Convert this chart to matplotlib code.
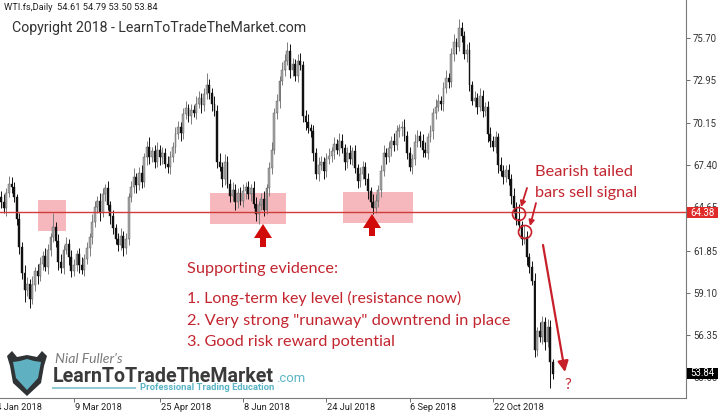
import numpy as np
import pandas as pd
import matplotlib
matplotlib.use("Agg")
import matplotlib.pyplot as plt
import matplotlib.transforms as mtransforms
from matplotlib import font_manager
from matplotlib.patches import Rectangle, Polygon, Circle

# ---------------- data ----------------
header_text = "WTI.fs,Daily  54.61 54.79 53.50 53.84"
start_date = "2018-01-30"
first_open = 65.3
closes = [
    65.0, 64.6, 65.6, 66.2, 66.0, 65.3, 63.9, 62.1, 60.4, 59.3,
    59.7, 58.7, 59.6, 60.5, 60.2, 61.0, 61.5, 60.8, 61.9, 62.7,
    63.4, 62.5, 61.1, 60.7, 61.9, 62.3, 61.4, 60.5, 60.9, 61.6,
    60.9, 60.6, 61.3, 62.0, 62.7, 63.7, 64.7, 65.1, 64.3, 65.5,
    65.9, 64.8, 64.1, 63.3, 62.6, 62.2, 62.8, 62.0, 62.6, 65.3,
    66.0, 66.6, 66.1, 66.9, 66.3, 67.9, 68.6, 67.9, 68.3, 67.6,
    68.4, 67.9, 68.2, 67.5, 67.3, 67.9, 68.6, 69.4, 69.9, 69.5,
    70.7, 71.1, 70.6, 71.0, 70.8, 71.4, 71.8, 71.3, 72.0, 72.6,
    72.1, 71.4, 70.9, 67.6, 67.3, 66.5, 67.6, 66.2, 65.4, 65.8,
    65.0, 65.6, 65.1, 65.7, 66.0, 65.5, 65.9, 64.9, 64.2, 64.8,
    65.2, 64.5, 65.9, 67.2, 68.4, 70.8, 71.6, 72.9, 73.6, 74.2,
    74.8, 73.6, 74.0, 73.2, 74.2, 73.9, 70.6, 70.2, 69.8, 69.6,
    68.2, 66.8, 67.4, 67.6, 67.0, 67.8, 68.0, 68.3, 68.8, 68.4,
    69.0, 68.5, 67.6, 68.2, 67.8, 68.3, 67.2, 66.4, 66.8, 67.3,
    66.5, 65.7, 65.0, 64.6, 65.1, 65.8, 67.0, 68.2, 67.9, 68.5,
    69.0, 68.7, 69.6, 69.8, 69.9, 69.3, 68.2, 67.3, 67.8, 68.9,
    69.3, 69.0, 68.4, 68.2, 69.2, 69.6, 70.8, 71.2, 71.6, 71.4,
    72.4, 73.1, 72.8, 74.6, 75.4, 75.1, 76.3, 75.8, 74.6, 74.9,
    72.6, 71.6, 71.8, 71.2, 71.9, 70.9, 71.2, 69.4, 69.0, 68.6,
    69.2, 67.4, 67.0, 66.6, 67.1, 66.5, 65.4, 64.6, 63.9, 63.5,
    62.6, 62.7, 61.4, 60.8, 59.9, 55.4, 56.6, 56.2, 57.2, 55.9,
    56.9, 54.61, 53.84,
]
upper_wick = [
    0.4, 0.5, 0.3, 0.5, 0.4, 0.3, 0.2, 0.4, 0.3, 0.5,
    0.4, 0.3, 0.6, 0.3, 0.5, 0.4, 0.3, 0.5, 0.4, 0.3,
    0.9, 0.3, 0.4, 0.5, 0.3, 0.4, 0.3, 0.5, 0.4, 0.3,
    0.4, 0.5, 0.3, 0.4, 0.3, 0.5, 0.4, 0.3, 0.5, 0.4,
    0.3, 0.5, 0.3, 0.4, 0.3, 0.4, 0.5, 0.3, 0.4, 0.3,
    0.4, 0.6, 0.3, 0.4, 0.5, 0.3, 0.4, 0.6, 0.3, 0.4,
    0.5, 0.3, 0.4, 0.3, 0.5, 0.4, 0.3, 0.5, 0.4, 0.3,
    0.4, 0.5, 0.3, 0.4, 0.3, 0.5, 0.4, 0.3, 0.4, 0.8,
    0.4, 0.3, 0.5, 0.4, 0.6, 0.3, 0.5, 0.4, 0.3, 0.5,
    0.4, 0.3, 0.4, 0.5, 0.3, 0.4, 0.3, 0.5, 0.4, 0.3,
    0.4, 0.5, 0.3, 0.4, 0.5, 0.3, 0.4, 0.3, 0.5, 0.4,
    0.6, 0.5, 0.4, 0.3, 0.4, 0.5, 0.3, 0.4, 0.5, 0.3,
    0.4, 0.3, 0.5, 0.4, 0.3, 0.4, 0.5, 0.3, 0.4, 0.3,
    0.5, 0.4, 0.3, 0.4, 0.5, 0.3, 0.4, 0.3, 0.5, 0.4,
    0.3, 0.4, 0.3, 0.5, 0.4, 0.3, 0.4, 0.5, 0.3, 0.4,
    0.3, 0.5, 0.4, 0.3, 0.4, 0.5, 0.3, 0.4, 0.3, 0.5,
    0.4, 0.3, 0.4, 0.5, 0.3, 0.4, 0.3, 0.5, 0.4, 0.3,
    0.4, 0.5, 0.3, 0.4, 0.5, 0.3, 0.6, 0.4, 0.3, 0.4,
    0.5, 0.3, 0.4, 0.3, 0.5, 0.4, 0.3, 0.4, 0.5, 0.3,
    0.4, 0.3, 0.5, 0.4, 0.3, 0.4, 0.3, 0.5, 0.4, 1.0,
    0.3, 0.8, 0.4, 0.3, 0.4, 0.5, 0.3, 0.6, 0.4, 0.3,
    0.5, 0.4, 0.18,
]
lower_wick = [
    0.4, 0.3, 0.5, 0.3, 0.4, 0.3, 0.4, 0.5, 0.4, 0.8,
    0.4, 0.6, 0.3, 0.4, 0.5, 0.3, 0.4, 0.3, 0.5, 0.4,
    0.3, 0.4, 0.5, 0.3, 0.4, 0.3, 0.5, 0.4, 0.3, 0.4,
    0.5, 0.3, 0.4, 0.3, 0.5, 0.4, 0.3, 0.4, 0.5, 0.3,
    0.4, 0.3, 0.5, 0.4, 0.3, 0.4, 0.3, 0.5, 0.4, 0.4,
    0.3, 0.4, 0.5, 0.3, 0.4, 0.3, 0.5, 0.4, 0.3, 0.4,
    0.3, 0.5, 0.4, 0.3, 0.4, 0.5, 0.3, 0.4, 0.3, 0.5,
    0.4, 0.3, 0.4, 0.5, 0.3, 0.4, 0.3, 0.5, 0.4, 0.3,
    0.4, 0.5, 0.3, 0.4, 0.3, 0.5, 0.4, 0.3, 0.4, 0.3,
    0.5, 0.4, 0.3, 0.4, 0.5, 0.3, 0.4, 0.3, 0.4, 0.6,
    0.3, 0.4, 0.3, 0.5, 0.4, 0.3, 0.4, 0.5, 0.3, 0.4,
    0.3, 0.5, 0.4, 0.3, 0.4, 0.3, 0.4, 0.5, 0.3, 0.4,
    0.5, 0.3, 0.4, 0.3, 0.5, 0.4, 0.3, 0.4, 0.5, 0.3,
    0.4, 0.3, 0.5, 0.4, 0.3, 0.4, 0.3, 0.5, 0.4, 0.3,
    0.4, 0.5, 0.3, 0.4, 0.3, 0.4, 0.5, 0.3, 0.4, 0.3,
    0.5, 0.4, 0.3, 0.4, 0.5, 0.3, 0.4, 0.3, 0.5, 0.4,
    0.3, 0.4, 0.5, 0.3, 0.4, 0.3, 0.5, 0.4, 0.3, 0.4,
    0.5, 0.3, 0.4, 0.3, 0.4, 0.5, 0.3, 0.4, 0.3, 0.5,
    0.4, 0.3, 0.4, 0.5, 0.3, 0.4, 0.3, 0.5, 0.4, 0.3,
    0.4, 0.5, 0.3, 0.4, 0.3, 0.4, 0.5, 0.3, 0.4, 0.3,
    0.4, 0.3, 0.5, 0.4, 0.3, 0.5, 0.4, 0.3, 0.4, 0.5,
    0.3, 1.7, 0.34,
]
price_ticks = [75.70, 72.95, 70.15, 67.40, 64.65, 61.85, 59.10, 56.35, 53.60]
price_tick_labels = ["75.70", "72.95", "70.15", "67.40", "64.65", "61.85", "59.10", "56.35", "53.60"]
date_ticks = ["2018-01-24", "2018-03-09", "2018-04-25", "2018-06-08",
              "2018-07-24", "2018-09-06", "2018-10-22"]
date_tick_labels = ["24 Jan 2018", "9 Mar 2018", "25 Apr 2018", "8 Jun 2018",
                    "24 Jul 2018", "6 Sep 2018", "22 Oct 2018"]
key_level = 64.38
last_price = 53.84

copyright_text = "Copyright 2018 - LearnToTradeTheMarket.com"
evidence_title = "Supporting evidence:"
evidence_lines = ['1. Long-term key level (resistance now)',
                  '2. Very strong "runaway" downtrend in place',
                  '3. Good risk reward potential']
signal_lines = ["Bearish tailed", "bars sell signal"]

assert len(closes) == len(upper_wick) == len(lower_wick)

# ---------------- fonts ----------------
avail = {f.name for f in font_manager.fontManager.ttflist}
def pick(*names):
    for n in names:
        if n in avail:
            return n
    return "DejaVu Sans"
axis_font = pick("Roboto", "DejaVu Sans")
note_font = pick("Lato", "Open Sans", "DejaVu Sans")
logo_font = pick("Liberation Sans Narrow", "Roboto", "DejaVu Sans")

# ---------------- derived OHLC ----------------
n = len(closes)
c = np.array(closes)
o = np.array([first_open] + closes[:-1])
hi = np.maximum(o, c) + np.array(upper_wick)
lo = np.minimum(o, c) - np.array(lower_wick)
x = np.arange(n)
start = np.datetime64(start_date)
tick_pos = [int(np.busday_count(start, np.datetime64(d))) for d in date_ticks]

W, H = 720, 416
fig = plt.figure(figsize=(W / 100, H / 100), dpi=100)
ax = fig.add_axes([0, 18 / H, 686 / W, 398 / H])
ov = fig.add_axes([0, 0, 1, 1], zorder=10)
ov.set_xlim(0, W)
ov.set_ylim(H, 0)
ov.axis("off")
ov.patch.set_alpha(0)

# axis scales: bar spacing ~2.6 px, price 15.38 px per unit
ax.set_xlim(-0.42, 263.2)
ax.set_ylim(52.26, 78.14)

bull = c >= o
# pink zones (pixel placement, under candles)
zones_px = [(38, 200, 28, 31), (210, 193, 76, 31), (343, 192, 70, 31)]
for zx, zy, zw, zh in zones_px:
    ax.add_patch(Rectangle((zx, zy), zw, zh, transform=ov.transData,
                           facecolor="#f6b8bc", edgecolor="none", zorder=1))

wick_cols = np.where(bull, "#7d7d7d", "#111111")
ax.vlines(x, lo, hi, colors=wick_cols, linewidth=0.7, zorder=2)
body_h = np.maximum(np.abs(c - o), 0.06)
ax.bar(x[bull], body_h[bull], bottom=np.minimum(o, c)[bull], width=0.72,
       color="#a8a8a8", edgecolor="#555555", linewidth=0.3, zorder=3)
ax.bar(x[~bull], body_h[~bull], bottom=np.minimum(o, c)[~bull], width=0.72,
       color="#111111", edgecolor="#111111", linewidth=0.3, zorder=3)

ax.axhline(key_level, color="#d23b3b", linewidth=1.0, zorder=4)

# spines / ticks
for s in ("left", "top"):
    ax.spines[s].set_visible(False)
for s in ("right", "bottom"):
    ax.spines[s].set_color("#7a7a7a")
    ax.spines[s].set_linewidth(0.8)
ax.yaxis.tick_right()
ax.set_yticks(price_ticks)
ax.set_yticklabels(price_tick_labels)
ax.tick_params(axis="y", length=3, width=0.6, color="#555555", pad=2,
               labelsize=6.9, labelcolor="#333333")
for t in ax.get_yticklabels():
    t.set_fontfamily(axis_font)
ax.set_xticks([p for p in tick_pos if p >= -0.42])
ax.set_xticklabels([])
ax.tick_params(axis="x", length=3, width=0.6, color="#555555")
xblend = mtransforms.blended_transform_factory(ax.transData, ov.transData)
for p, lab in zip(tick_pos, date_tick_labels):
    ax.text(p + 0.3, 408, lab, transform=xblend, ha="left", va="center",
            fontsize=6.7, color="#222222", family=axis_font, clip_on=False)

renderer = fig.canvas.get_renderer()
def fit_text(x0, y0, s, width, **kw):
    t = ov.text(x0, y0, s, **kw)
    bb = t.get_window_extent(renderer=renderer)
    t.set_fontsize(t.get_fontsize() * width / bb.width)
    return t

# header texts
fit_text(4, 7, header_text, 154, ha="left", va="center", fontsize=7,
         color="#222222", family=axis_font)
fit_text(12, 28, copyright_text, 294, ha="left", va="center", fontsize=10,
         color="#333333", family=axis_font)

red_txt = "#c3252f"
fit_text(187, 273, evidence_title, 150, ha="left", va="baseline", fontsize=12,
         color=red_txt, family=note_font)
for yb, line, wdt in zip([303, 325, 346], evidence_lines, [275, 320, 207]):
    fit_text(187, yb, line, wdt, ha="left", va="baseline", fontsize=12,
             color=red_txt, family=note_font)
fit_text(535, 176, signal_lines[0], 97, ha="left", va="baseline", fontsize=12,
         color=red_txt, family=note_font)
fit_text(535, 197, signal_lines[1], 102, ha="left", va="baseline", fontsize=12,
         color=red_txt, family=note_font)
ov.text(568, 389, "?", ha="center", va="baseline", fontsize=11,
        color=red_txt, family=note_font)

# fat red up arrows
def up_arrow(xc, ytip, yhead, ybase, hw=18, sw=6):
    pts = [(xc, ytip), (xc + hw / 2, yhead), (xc + sw / 2, yhead),
           (xc + sw / 2, ybase), (xc - sw / 2, ybase), (xc - sw / 2, yhead),
           (xc - hw / 2, yhead)]
    ov.add_patch(Polygon(pts, closed=True, facecolor="#d10a0a", edgecolor="none"))
up_arrow(263, 224, 238, 247)
up_arrow(372, 214, 228, 236)

# small arrows and circles
for (x1, y1), (x2, y2) in [((527, 188), (521, 207)), ((536, 203), (530, 226))]:
    ov.annotate("", xy=(x2, y2), xytext=(x1, y1),
                arrowprops=dict(arrowstyle="-|>", color="#c8202a", lw=1.3,
                                mutation_scale=8, shrinkA=0, shrinkB=0))
for cx, cy in [(519, 214), (525, 232)]:
    ov.add_patch(Circle((cx, cy), 6.5, facecolor="none", edgecolor="#c8202a", lw=1.2))

# big down arrow
ov.annotate("", xy=(565, 372), xytext=(543, 245),
            arrowprops=dict(arrowstyle="-|>", color="#c8202a", lw=1.6,
                            mutation_scale=16, shrinkA=0, shrinkB=0))

# price boxes
def price_box(yc, txt, fc):
    ov.add_patch(Rectangle((687, yc - 5.5), 31, 11, facecolor=fc, edgecolor="none"))
    ov.text(702.5, yc, txt, ha="center", va="center", fontsize=6.9,
            color="white", family=axis_font)
price_box(212.5, f"{key_level:.2f}", "#e02a2a")
price_box(373.5, f"{last_price:.2f}", "#000000")

# logo
outer = [(7, 356), (12, 351), (17, 357), (27, 355), (37, 357), (42, 351), (47, 356),
         (44, 366), (41, 383), (27, 396), (13, 383), (10, 366)]
inner = [(13, 362), (20, 361), (27, 359), (34, 361), (41, 362), (38, 378),
         (27, 390), (16, 378)]
ov.add_patch(Polygon(outer, closed=True, facecolor="#2f3335", edgecolor="none"))
ov.add_patch(Polygon(inner, closed=True, facecolor="#5fb0c0", edgecolor="none"))
fit_text(55, 363, "Nial Fuller's", 68, ha="left", va="baseline", fontsize=9,
         color="#7a7a7a", family=note_font, style="italic")
fit_text(53, 382, "LearnToTradeTheMarket", 222, ha="left", va="baseline", fontsize=16,
         color="#3a3a3a", family=logo_font, weight="bold")
fit_text(276, 382, ".com", 29, ha="left", va="baseline", fontsize=10,
         color="#5ab4c5", family=logo_font)
ov.plot([53, 135], [388, 388], color="#8fc8d2", lw=1.4)
fit_text(140, 388, "Professional Trading Education", 135, ha="left", va="center",
         fontsize=7, color="#5ab4c5", family=logo_font, weight="bold")

fig.savefig("out.png", dpi=100)
